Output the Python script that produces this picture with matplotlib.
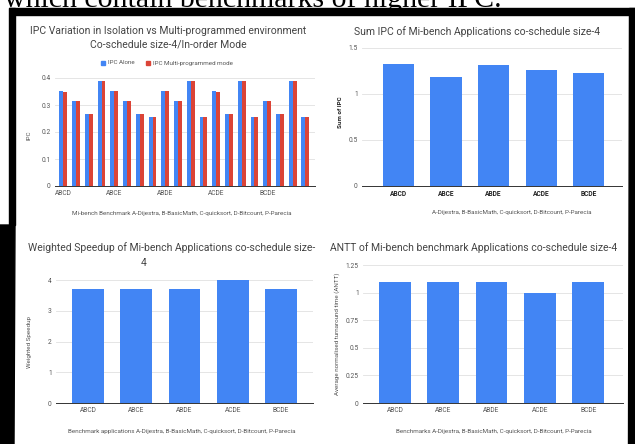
import matplotlib.pyplot as plt
import matplotlib.patches as mpatches
import numpy as np

plt.rcParams['font.family'] = ['Roboto', 'DejaVu Sans']

# data
combos = ['ABCD', 'ABCE', 'ABDE', 'ACDE', 'BCDE']
ipc_alone = [0.350, 0.316, 0.266, 0.390,
             0.350, 0.316, 0.266, 0.255,
             0.350, 0.316, 0.390, 0.255,
             0.350, 0.266, 0.390, 0.255,
             0.316, 0.266, 0.390, 0.255]
ipc_multi = [0.348, 0.316, 0.266, 0.390,
             0.350, 0.314, 0.265, 0.254,
             0.350, 0.314, 0.390, 0.254,
             0.348, 0.265, 0.390, 0.255,
             0.314, 0.265, 0.390, 0.254]
sum_ipc = [1.325, 1.180, 1.310, 1.256, 1.227]
weighted_speedup = [3.7, 3.7, 3.7, 4.0, 3.7]
antt = [1.1, 1.1, 1.1, 1.0, 1.1]

BLUE = '#4285F4'
RED = '#DB4437'
GRID = '#e0e0e0'
TITLE_C = '#444444'
TICK_C = '#555555'
TITLE_FS = 7.5
TICK_FS = 4.8
LABEL_FS = 4.5

W, H = 635, 444
fig = plt.figure(figsize=(W / 100, H / 100), dpi=100)


def px(x, y):
    return x / W, 1 - y / H


def add_axes(left, top, right, bottom):
    return fig.add_axes([left / W, 1 - bottom / H, (right - left) / W, (bottom - top) / H])


def style(ax, yticks, ylim):
    ax.set_ylim(*ylim)
    ax.set_yticks(yticks)
    ax.set_yticklabels([f'{t:g}' for t in yticks], fontsize=TICK_FS, color=TICK_C)
    ax.yaxis.grid(True, color=GRID, linewidth=0.6)
    ax.set_axisbelow(True)
    for s in ['top', 'right', 'left']:
        ax.spines[s].set_visible(False)
    ax.spines['bottom'].set_color('#333333')
    ax.spines['bottom'].set_linewidth(0.7)
    ax.tick_params(axis='both', length=0, pad=3)


# top-left: IPC alone vs multi-programmed
ax1 = add_axes(55, 78, 315, 186)
g = np.arange(len(ipc_alone))
bw = 0.31
ax1.bar(g - bw / 2, ipc_alone, bw, color=BLUE)
ax1.bar(g + bw / 2, ipc_multi, bw, color=RED)
ax1.set_xlim(-0.65, len(g) - 0.25)
style(ax1, [0, 0.1, 0.2, 0.3, 0.4], (0, 0.4))
ax1.set_xticks(g[::4])
ax1.set_xticklabels(combos, fontsize=TICK_FS, color=TICK_C)
fig.text(*px(168, 31), 'IPC Variation in Isolation vs Multi-programmed environment',
         ha='center', va='center', fontsize=TITLE_FS, color=TITLE_C)
fig.text(*px(168, 45), 'Co-schedule size-4/In-order Mode',
         ha='center', va='center', fontsize=TITLE_FS, color=TITLE_C)
fig.patches.append(mpatches.Rectangle(px(101, 65), 4 / W, 4 / H, color=BLUE, transform=fig.transFigure))
fig.text(*px(108, 63), 'IPC Alone', ha='left', va='center', fontsize=LABEL_FS, color=TICK_C)
fig.patches.append(mpatches.Rectangle(px(146, 65), 4 / W, 4 / H, color=RED, transform=fig.transFigure))
fig.text(*px(153, 63), 'IPC Multi-programmed mode', ha='left', va='center', fontsize=LABEL_FS, color=TICK_C)
fig.text(*px(29, 135), 'IPC', rotation=90, ha='center', va='center', fontsize=LABEL_FS, color=TICK_C)
fig.text(*px(182, 213), 'Mi-bench Benchmark A-Dijestra, B-BasicMath, C-quicksort, D-Bitcount, P-Parecia',
         ha='center', va='center', fontsize=LABEL_FS, color=TICK_C)

x = np.arange(len(combos))

# top-right: sum of IPC
ax2 = add_axes(362, 48, 622, 186)
ax2.bar(x, sum_ipc, 0.66, color=BLUE)
ax2.set_xlim(-0.77, 4.7)
style(ax2, [0, 0.5, 1, 1.5], (0, 1.5))
ax2.set_xticks(x)
ax2.set_xticklabels(combos, fontsize=TICK_FS, color='#222222', fontweight='bold')
fig.text(*px(477, 32), 'Sum IPC of Mi-bench Applications co-schedule size-4',
         ha='center', va='center', fontsize=TITLE_FS, color=TITLE_C)
fig.text(*px(340, 112), 'Sum of IPC', rotation=90, ha='center', va='center',
         fontsize=LABEL_FS, color='#222222', fontweight='bold')
fig.text(*px(512, 212), 'A-Dijestra, B-BasicMath, C-quicksort, D-Bitcount, P-Parecia',
         ha='center', va='center', fontsize=LABEL_FS, color=TICK_C)

# bottom-left: weighted speedup
ax3 = add_axes(56, 280, 313, 403)
ax3.bar(x, weighted_speedup, 0.66, color=BLUE)
ax3.set_xlim(-0.66, 4.66)
style(ax3, [0, 1, 2, 3, 4], (0, 4))
ax3.set_xticks(x)
ax3.set_xticklabels(combos, fontsize=TICK_FS, color=TICK_C)
fig.text(*px(172, 248), 'Weighted Speedup of Mi-bench Applications co-schedule size-',
         ha='center', va='center', fontsize=TITLE_FS, color=TITLE_C)
fig.text(*px(144, 263), '4', ha='center', va='center', fontsize=TITLE_FS, color=TITLE_C)
fig.text(*px(29, 342), 'Weighted Speedup', rotation=90, ha='center', va='center',
         fontsize=LABEL_FS, color=TICK_C)
fig.text(*px(182, 431), 'Benchmark applications A-Dijestra, B-BasicMath, C-quicksort, D-Bitcount, P-Parecia',
         ha='center', va='center', fontsize=LABEL_FS, color=TICK_C)

# bottom-right: ANTT
ax4 = add_axes(363, 265, 623, 403)
ax4.bar(x, antt, 0.66, color=BLUE)
ax4.set_xlim(-0.66, 4.72)
style(ax4, [0, 0.25, 0.5, 0.75, 1, 1.25], (0, 1.25))
ax4.set_xticks(x)
ax4.set_xticklabels(combos, fontsize=TICK_FS, color=TICK_C)
fig.text(*px(474, 248), 'ANTT of Mi-bench benchmark Applications co-schedule size-4',
         ha='center', va='center', fontsize=TITLE_FS, color=TITLE_C)
fig.text(*px(337, 334), 'Average normalised turnaround time (ANTT)', rotation=90,
         ha='center', va='center', fontsize=LABEL_FS, color=TICK_C)
fig.text(*px(494, 431), 'Benchmarks A-Dijestra, B-BasicMath, C-quicksort, D-Bitcount, P-Parecia',
         ha='center', va='center', fontsize=LABEL_FS, color=TICK_C)

# black frame around the figure panel
frame = [
    [(9, 8), (635, 8), (635, 15), (15, 15)],          # top
    [(9, 8), (15, 8), (15, 225), (9, 225)],           # left, upper
    [(0, 225), (15, 225), (14, 444), (0, 444)],       # left, lower
    [(629, 8), (635, 8), (635, 444), (628, 444)],     # right
]
for poly in frame:
    fig.patches.append(mpatches.Polygon([px(a, b) for a, b in poly], closed=True,
                                        color='black', transform=fig.transFigure))

# cut-off line of body text above the frame
fig.text(*px(4, 7), 'which contain benchmarks of higher IPC.', ha='left', va='baseline',
         fontsize=21.5, family=['Liberation Serif', 'DejaVu Serif'], color='black')

fig.savefig('out.png', dpi=100)
